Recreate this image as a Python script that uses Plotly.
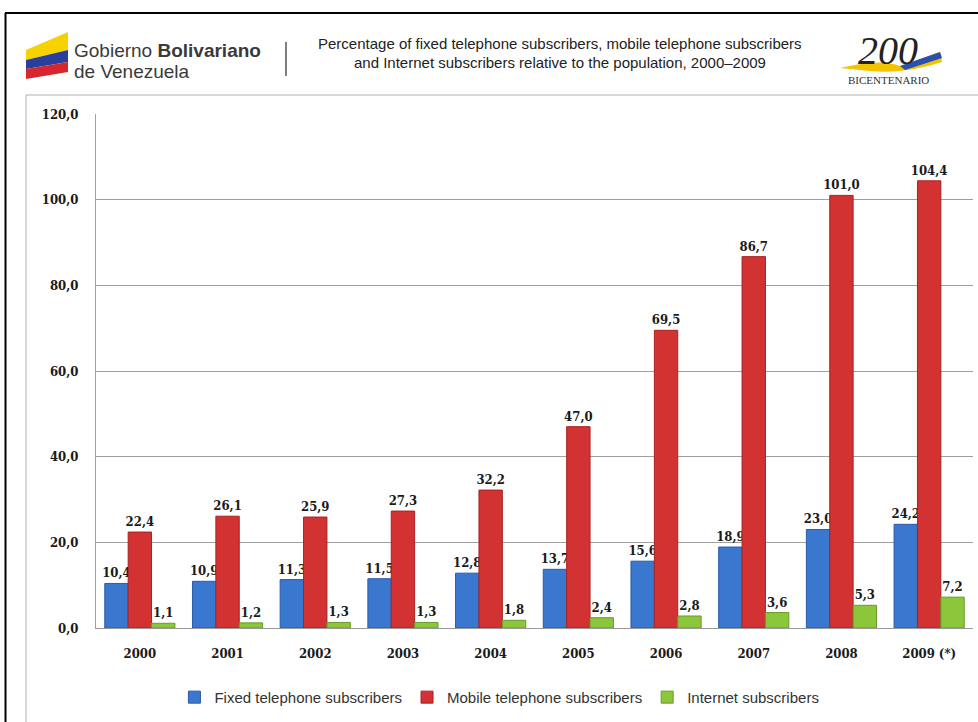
import plotly.graph_objects as go

years = ["2000", "2001", "2002", "2003", "2004", "2005", "2006", "2007", "2008", "2009 (*)"]
fixed = [10.4, 10.9, 11.3, 11.5, 12.8, 13.7, 15.6, 18.9, 23.0, 24.2]
mobile = [22.4, 26.1, 25.9, 27.3, 32.2, 47.0, 69.5, 86.7, 101.0, 104.4]
internet = [1.1, 1.2, 1.3, 1.3, 1.8, 2.4, 2.8, 3.6, 5.3, 7.2]
series_names = ["Fixed telephone subscribers", "Mobile telephone subscribers", "Internet subscribers"]
y_ticks = [0, 20, 40, 60, 80, 100, 120]

def fmt(v):
    return f"{v:.1f}".replace(".", ",")

serif = "DejaVu Serif Condensed, DejaVu Serif, Liberation Serif, serif"
lab_font = dict(family=serif, size=13, color="#1a1a1a")

fig = go.Figure()
for name, vals, col, line in [
    (series_names[0], fixed, "#3a78d0", "#2a5aa8"),
    (series_names[1], mobile, "#d23232", "#a82222"),
    (series_names[2], internet, "#8cc63a", "#6a9a2a"),
]:
    fig.add_trace(go.Bar(
        x=years, y=vals, name=name,
        marker=dict(color=col, line=dict(color=line, width=1)),
        text=[fmt(v) for v in vals], texttemplate="<b>%{text}</b>", textposition="outside",
        textfont=lab_font, cliponaxis=False, constraintext="none",
    ))

W, H = 978, 722
pl, pr, pt, pb = 96, 973, 114, 628

fig.update_layout(
    width=W, height=H,
    paper_bgcolor="white", plot_bgcolor="white",
    margin=dict(l=pl, r=W - pr, t=pt, b=H - pb),
    barmode="group", bargap=0.2, bargroupgap=0.0,
    separators=",.",
    showlegend=True,
    legend=dict(orientation="h", x=0.46, xanchor="center", y=-0.135, yanchor="middle",
                font=dict(family="Liberation Sans, Arial, sans-serif", size=15, color="#333"),
                itemwidth=30, traceorder="normal"),
    font=dict(family=serif, color="#1a1a1a"),
)
fig.update_xaxes(
    showline=True, linecolor="#999", linewidth=1, ticks="",
    tickfont=dict(family=serif, size=13, color="#1a1a1a", weight="bold"),
    ticklabelstandoff=13,
)
fig.update_yaxes(
    range=[0, 120], tickvals=y_ticks, tickformat=".1f",
    showgrid=True, gridcolor="#a0a0a0", gridwidth=1,
    showline=True, linecolor="#a0a0a0", zeroline=False,
    tickfont=dict(family=serif, size=13, color="#1a1a1a", weight="bold"),
    ticklabelstandoff=14,
)

def px(x):
    return (x - pl) / (pr - pl)
def py(y):
    return (pb - y) / (pb - pt)

shapes = [
    dict(type="line", xref="paper", yref="paper", x0=px(5), x1=px(990), y0=py(13), y1=py(13),
         line=dict(color="black", width=2)),
    dict(type="line", xref="paper", yref="paper", x0=px(5.5), x1=px(5.5), y0=py(13), y1=py(730),
         line=dict(color="black", width=2)),
    dict(type="line", xref="paper", yref="paper", x0=px(26), x1=px(990), y0=py(95), y1=py(95),
         line=dict(color="#b0b0b0", width=1)),
    dict(type="line", xref="paper", yref="paper", x0=px(26), x1=px(26), y0=py(95), y1=py(730),
         line=dict(color="#b0b0b0", width=1)),
    dict(type="line", xref="paper", yref="paper", x0=px(286), x1=px(286), y0=py(42), y1=py(76),
         line=dict(color="#555", width=1.5)),
    dict(type="path", xref="paper", yref="paper",
         path=f"M {px(26)},{py(50)} L {px(68)},{py(32)} L {px(68)},{py(50)} L {px(26)},{py(60)} Z",
         fillcolor="#f6d300", line=dict(width=0)),
    dict(type="path", xref="paper", yref="paper",
         path=f"M {px(26)},{py(60)} L {px(68)},{py(50)} L {px(68)},{py(62)} L {px(26)},{py(69)} Z",
         fillcolor="#2a3f9c", line=dict(width=0)),
    dict(type="path", xref="paper", yref="paper",
         path=f"M {px(26)},{py(69)} L {px(68)},{py(62)} L {px(68)},{py(72)} L {px(26)},{py(79)} Z",
         fillcolor="#d8262e", line=dict(width=0)),
    dict(type="path", xref="paper", yref="paper",
         path=f"M {px(840)},{py(68)} Q {px(880)},{py(58)} {px(900)},{py(66)} L {px(940)},{py(52)} L {px(942)},{py(62)} Q {px(900)},{py(76)} {px(860)},{py(70)} Z",
         fillcolor="#f2c400", line=dict(width=0)),
    dict(type="path", xref="paper", yref="paper",
         path=f"M {px(900)},{py(66)} L {px(940)},{py(52)} L {px(942)},{py(58)} L {px(905)},{py(70)} Z",
         fillcolor="#2a4fae", line=dict(width=0)),
]
fig.update_layout(shapes=shapes)

title_font = dict(family="Liberation Sans Narrow, Arial Narrow, Liberation Sans, sans-serif", size=15, color="#222")
annotations = [
    dict(xref="paper", yref="paper", x=px(560), y=py(43), text="Percentage of fixed telephone subscribers, mobile telephone subscribers",
         showarrow=False, xanchor="center", yanchor="middle", font=title_font),
    dict(xref="paper", yref="paper", x=px(560), y=py(63), text="and Internet subscribers relative to the population, 2000\u20132009",
         showarrow=False, xanchor="center", yanchor="middle", font=title_font),
    dict(xref="paper", yref="paper", x=px(72), y=py(50), text="Gobierno <b>Bolivariano</b>",
         showarrow=False, xanchor="left", yanchor="middle",
         font=dict(family="Liberation Sans, Arial, sans-serif", size=19, color="#3a3a3a")),
    dict(xref="paper", yref="paper", x=px(72), y=py(71), text="de Venezuela",
         showarrow=False, xanchor="left", yanchor="middle",
         font=dict(family="Liberation Sans, Arial, sans-serif", size=19, color="#3a3a3a")),
    dict(xref="paper", yref="paper", x=px(888), y=py(50), text="<i>200</i>",
         showarrow=False, xanchor="center", yanchor="middle",
         font=dict(family="Liberation Serif, serif", size=40, color="#222")),
    dict(xref="paper", yref="paper", x=px(888), y=py(80), text="BICENTENARIO",
         showarrow=False, xanchor="center", yanchor="middle",
         font=dict(family="Liberation Serif, serif", size=11, color="#333")),
]
fig.update_layout(annotations=annotations)

fig.write_html("out.html", config={"displayModeBar": False},
               post_script="document.body.style.margin='0';document.body.style.overflow='hidden';")
